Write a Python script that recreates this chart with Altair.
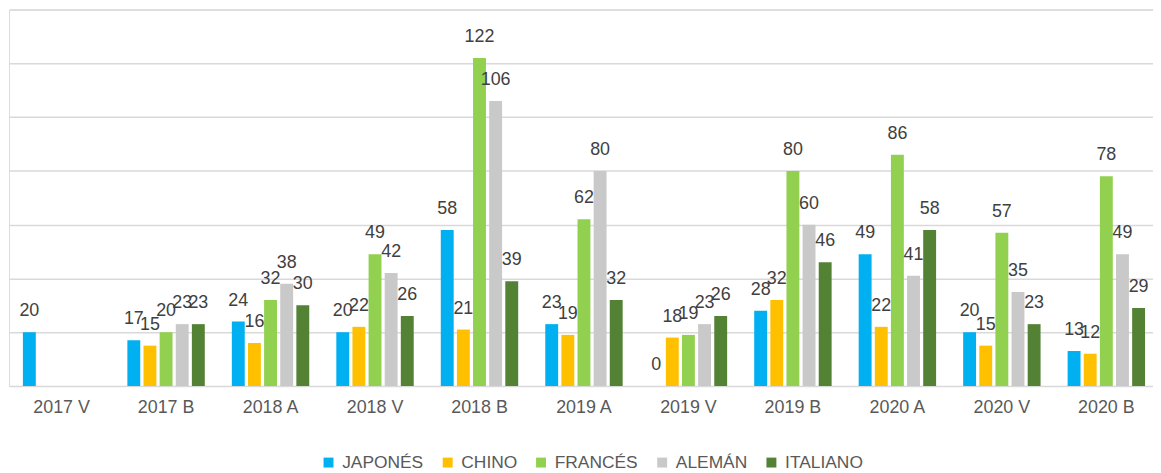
import altair as alt
import pandas as pd

categories = ["2017 V", "2017 B", "2018 A", "2018 V", "2018 B", "2019 A",
              "2019 V", "2019 B", "2020 A", "2020 V", "2020 B"]
series = ["JAPONÉS", "CHINO", "FRANCÉS", "ALEMÁN", "ITALIANO"]
colors = ["#00B0F0", "#FFC000", "#92D050", "#C9C9C9", "#548235"]

japones = [20, 17, 24, 20, 58, 23, 0, 28, 49, 20, 13]
chino = [None, 15, 16, 22, 21, 19, 18, 32, 22, 15, 12]
frances = [None, 20, 32, 49, 122, 62, 19, 80, 86, 57, 78]
aleman = [None, 23, 38, 42, 106, 80, 23, 60, 41, 35, 49]
italiano = [None, 23, 30, 26, 39, 32, 26, 46, 58, 23, 29]

rows = []
for name, vals in zip(series, [japones, chino, frances, aleman, italiano]):
    for c, v in zip(categories, vals):
        if v is not None:
            rows.append({"cat": c, "series": name, "value": v})
df = pd.DataFrame(rows)

FONT = "Liberation Sans, Arial, sans-serif"

x = alt.X("cat:N", sort=categories,
          scale=alt.Scale(paddingInner=0.259, paddingOuter=0.1046, align=0.636),
          axis=alt.Axis(title=None, labelAngle=0, ticks=False, domain=False,
                        labelPadding=13, labelFontSize=18, labelFont=FONT,
                        labelColor="#595959", grid=False))
xo = alt.XOffset("series:N", sort=series,
                 scale=alt.Scale(domain=series, paddingInner=0.2, paddingOuter=0))
y = alt.Y("value:Q",
          scale=alt.Scale(domain=[0, 140], nice=False),
          axis=alt.Axis(title=None, labels=False, ticks=False, domain=False,
                        values=[0, 20, 40, 60, 80, 100, 120, 140],
                        gridColor="#D9D9D9", gridWidth=1.5))

bars = alt.Chart(df).mark_bar().encode(
    x=x, xOffset=xo, y=y,
    color=alt.Color("series:N", sort=series,
                    scale=alt.Scale(domain=series, range=colors),
                    legend=alt.Legend(title=None, orient="none", legendX=313, legendY=447,
                                      direction="horizontal", symbolType="square",
                                      symbolSize=100, symbolStrokeWidth=0, symbolOpacity=1,
                                      labelFontSize=17.5, labelFont=FONT, labelColor="#595959",
                                      columnPadding=15, labelOffset=5)),
)

labels = alt.Chart(df).mark_text(baseline="alphabetic", dy=-16, fontSize=18,
                                 font=FONT, color="#404040").encode(
    x=x, xOffset=xo, y=y, text=alt.Text("value:Q")
)

chart = alt.layer(bars, labels).properties(
    width=1152, height=379,
    autosize=alt.AutoSizeParams(type="none"),
    padding={"left": 1, "top": 0, "right": 0, "bottom": 84},
).configure_view(stroke=None).configure(background="white")

chart.save("out.html", embed_options={"renderer": "svg", "actions": False})
